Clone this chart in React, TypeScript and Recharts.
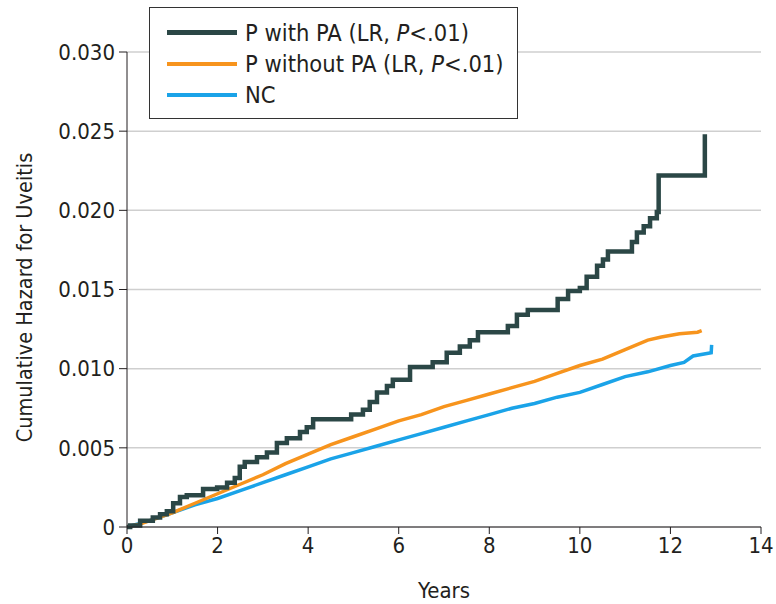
import React from 'react';
import { LineChart, Line, XAxis, YAxis, CartesianGrid, Legend } from 'recharts';

// [years, cumulative hazard]
const withPA: [number, number][] = [
  [0, 0], [0.07, 0.0001], [0.29, 0.0004], [0.57, 0.0006], [0.73, 0.0008], [0.88, 0.001],
  [1.02, 0.0015], [1.17, 0.0019], [1.32, 0.002], [1.68, 0.0024], [1.99, 0.0025], [2.21, 0.0028],
  [2.38, 0.0031], [2.49, 0.0038], [2.6, 0.0041], [2.87, 0.0044], [3.09, 0.0047], [3.31, 0.0053],
  [3.53, 0.0056], [3.82, 0.006], [3.97, 0.0063], [4.11, 0.0068], [4.95, 0.0071], [5.21, 0.0074],
  [5.36, 0.0079], [5.52, 0.0085], [5.74, 0.0089], [5.87, 0.0093], [6.25, 0.0101], [6.75, 0.0104],
  [7.06, 0.011], [7.35, 0.0114], [7.57, 0.0118], [7.75, 0.0123], [8.41, 0.0127], [8.61, 0.0134],
  [8.85, 0.0137], [9.51, 0.0144], [9.74, 0.0149], [10.0, 0.0151], [10.15, 0.0158], [10.38, 0.0165],
  [10.51, 0.0169], [10.62, 0.0174], [11.15, 0.018], [11.26, 0.0186], [11.41, 0.019], [11.55, 0.0195],
  [11.7, 0.0199], [11.74, 0.0222], [12.76, 0.0248],
];

const withoutPA: [number, number][] = [
  [0, 0], [0.3, 0.0002], [0.6, 0.0005], [1, 0.0009], [1.5, 0.0015], [2, 0.0021], [2.5, 0.0027],
  [3, 0.0033], [3.5, 0.004], [4, 0.0046], [4.5, 0.0052], [5, 0.0057], [5.5, 0.0062], [6, 0.0067],
  [6.5, 0.0071], [7, 0.0076], [7.5, 0.008], [8, 0.0084], [8.5, 0.0088], [9, 0.0092], [9.5, 0.0097],
  [10, 0.0102], [10.5, 0.0106], [11, 0.0112], [11.5, 0.0118], [11.8, 0.012], [12.2, 0.0122],
  [12.6, 0.0123], [12.69, 0.0124],
];

const controls: [number, number][] = [
  [0, 0], [0.5, 0.0004], [1, 0.0009], [1.5, 0.0014], [2, 0.0018], [2.5, 0.0023], [3, 0.0028],
  [3.5, 0.0033], [4, 0.0038], [4.5, 0.0043], [5, 0.0047], [5.5, 0.0051], [6, 0.0055], [6.5, 0.0059],
  [7, 0.0063], [7.5, 0.0067], [8, 0.0071], [8.5, 0.0075], [9, 0.0078], [9.5, 0.0082], [10, 0.0085],
  [10.5, 0.009], [11, 0.0095], [11.5, 0.0098], [12, 0.0102], [12.3, 0.0104], [12.5, 0.0108],
  [12.9, 0.011], [12.91, 0.0115],
];

const xTicks = [0, 2, 4, 6, 8, 10, 12, 14];
const yTicks = [0, 0.005, 0.01, 0.015, 0.02, 0.025, 0.03];

const toRows = (pts: [number, number][]) => pts.map(([t, h]) => ({ t, h }));

const FONT = '"DejaVu Sans Condensed", "DejaVu Sans", sans-serif';
const TEXT = '#231f20';

const legendItems = [
  { label: 'P with PA (LR, ', color: '#2b4746', width: 5 },
  { label: 'P without PA (LR, ', color: '#f7941d', width: 4 },
  { label: 'NC', color: '#1aa3e8', width: 4 },
];

const LegendBox = () => (
  <div
    style={{
      position: 'absolute',
      left: 149,
      top: 7,
      width: 369,
      height: 112,
      border: '1.5px solid #333',
      background: '#fff',
      fontFamily: FONT,
      fontStretch: 'condensed',
      fontSize: 23.5,
      color: TEXT,
      boxSizing: 'border-box',
      paddingTop: 9,
    }}
  >
    {legendItems.map((it, i) => (
      <div key={i} style={{ display: 'flex', alignItems: 'center', height: 31, paddingLeft: 17 }}>
        <div style={{ width: 70, height: it.width, background: it.color, marginRight: 8 }} />
        <span>
          {it.label}
          {i < 2 && (
            <>
              <i>P</i>&lt;.01)
            </>
          )}
        </span>
      </div>
    ))}
  </div>
);

export default function App() {
  return (
    <div style={{ position: 'absolute', left: 0, top: 0, width: 776, height: 604, background: '#fff' }}>
      <LineChart width={776} height={604} margin={{ top: 52, right: 15, bottom: 0, left: 0 }}>
        <CartesianGrid vertical={false} stroke="#cfcfcf" strokeWidth={1.5} />
        <XAxis
          type="number"
          dataKey="t"
          domain={[0, 14]}
          ticks={xTicks}
          height={77}
          tickSize={7}
          tickMargin={3}
          stroke="#231f20"
          tick={{ fill: TEXT, fontSize: 22, fontFamily: FONT, fontStretch: 'condensed' }}
          label={{ value: 'Years', position: 'insideBottom', offset: 6, fill: TEXT, fontSize: 22, fontFamily: FONT, fontStretch: 'condensed' }}
        />
        <YAxis
          type="number"
          dataKey="h"
          domain={[0, 0.03]}
          ticks={yTicks}
          width={127}
          tickSize={8}
          tickMargin={4}
          stroke="#231f20"
          tickFormatter={(v: number) => (v === 0 ? '0' : v.toFixed(3))}
          tick={{ fill: TEXT, fontSize: 22, fontFamily: FONT, fontStretch: 'condensed' }}
          label={{
            value: 'Cumulative Hazard for Uveitis',
            angle: -90,
            position: 'insideLeft',
            offset: 24,
            dy: 8,
            style: { textAnchor: 'middle', fontStretch: 'condensed' },
            fill: TEXT,
            fontSize: 21.5,
            fontFamily: FONT,
          }}
        />
        <Legend content={() => null} />
        <Line data={toRows(controls)} dataKey="h" type="linear" stroke="#1aa3e8" strokeWidth={3.5} dot={false} isAnimationActive={false} />
        <Line data={toRows(withoutPA)} dataKey="h" type="linear" stroke="#f7941d" strokeWidth={3.5} dot={false} isAnimationActive={false} />
        <Line data={toRows(withPA)} dataKey="h" type="stepAfter" stroke="#2b4746" strokeWidth={4.5} dot={false} isAnimationActive={false} />
      </LineChart>
      <LegendBox />
    </div>
  );
}
